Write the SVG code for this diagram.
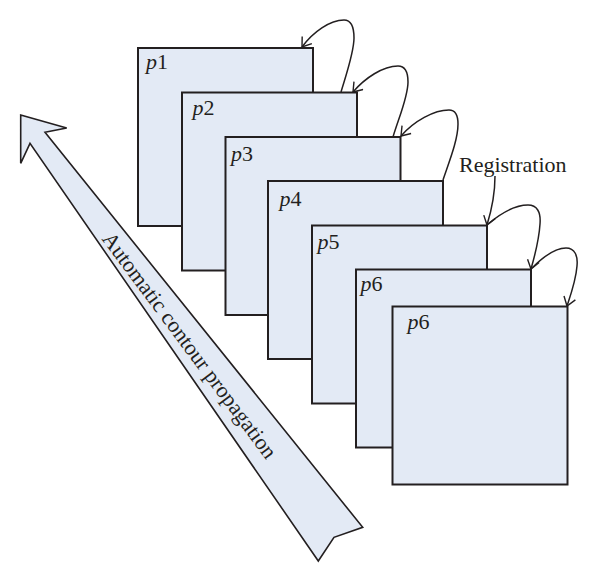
<svg xmlns="http://www.w3.org/2000/svg" width="600" height="583" viewBox="0 0 600 583">
<defs>
<style>
.frame{fill:#E3EAF5;stroke:#231F20;stroke-width:2}
.lbl{font-family:"Liberation Serif","Times New Roman",serif;font-size:22px;fill:#231F20}
.lbl tspan.it{font-style:italic}
.conn{fill:none;stroke:#231F20;stroke-width:1.5;marker-end:url(#ah)}
.big{fill:#E3EAF5;stroke:#231F20;stroke-width:1.6;stroke-linejoin:miter}
.txt{font-family:"Liberation Serif","Times New Roman",serif;font-size:22px;fill:#231F20}
</style>
<marker id="ah" viewBox="-10 -7 12 14" refX="0" refY="0" markerWidth="12" markerHeight="14" markerUnits="userSpaceOnUse" orient="auto">
<path d="M-8.5,-6 L0,0 L-8.5,6" fill="none" stroke="#231F20" stroke-width="1.4"/>
</marker>
</defs>
<rect width="600" height="583" fill="#FFFFFF"/>
<g id="propagation-arrow">
<polygon class="big" points="20.7,115 66.7,128 45,132.3 362.7,527.3 334,537.3 318.3,561 30,143.3 20.7,163.3"/>
<text class="txt" transform="translate(190,345) rotate(53.3)" text-anchor="middle" dy="0.35em">Automatic contour propagation</text>
</g>
<g id="p1"><rect class="frame" x="138" y="48" width="175" height="178"/><text class="lbl" x="146" y="68.5"><tspan class="it">p</tspan>1</text></g>
<g id="p2"><rect class="frame" x="182" y="92.5" width="175" height="178"/><text class="lbl" x="192.5" y="114.5"><tspan class="it">p</tspan>2</text></g>
<g id="p3"><rect class="frame" x="225.5" y="137" width="175" height="178"/><text class="lbl" x="231" y="160.5"><tspan class="it">p</tspan>3</text></g>
<g id="p4"><rect class="frame" x="268" y="181" width="175" height="178"/><text class="lbl" x="279.5" y="205.5"><tspan class="it">p</tspan>4</text></g>
<g id="p5"><rect class="frame" x="312" y="225.5" width="175" height="178"/><text class="lbl" x="317.5" y="248.5"><tspan class="it">p</tspan>5</text></g>
<g id="p6a"><rect class="frame" x="356" y="269.5" width="175" height="178"/><text class="lbl" x="360.5" y="290.5"><tspan class="it">p</tspan>6</text></g>
<g id="p6b"><rect class="frame" x="392.5" y="306.5" width="175" height="178"/><text class="lbl" x="407.5" y="328.5"><tspan class="it">p</tspan>6</text></g>
<g id="registration-label"><text class="txt" x="459" y="172">Registration</text></g>
<g id="connectors">
<path class="conn" d="M341,92 C347,72 354,52 354,38 C354,26 350,20 344,20 C330,20 313,32 302,47"/>
<path class="conn" d="M393,137 C399,117 408,97 408,82 C408,71 405,66 398,66 C383,66 365,78 353,92"/>
<path class="conn" d="M443,180 C449,162 458,140 458,124 C458,115 455,110 449,110 C434,110 414,121 401,136"/>
<path class="conn" d="M495,176 C495,195 491,212 487,225"/>
<path class="conn" d="M488,224 C500,214 515,205 528,205 C537,205 541,212 540,224 C539,240 535,255 531,269"/>
<path class="conn" d="M532,268 C542,258 555,248 566,248 C575,248 578,256 577,266 C576,280 571,294 567,306"/>
</g>
</svg>
